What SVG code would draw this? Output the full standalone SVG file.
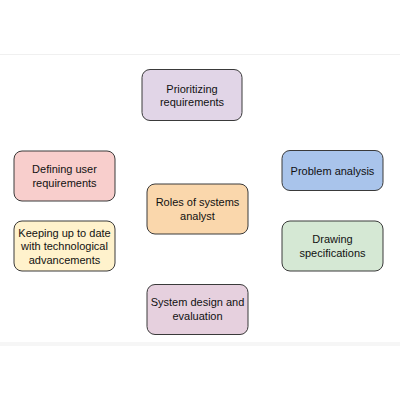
<svg xmlns="http://www.w3.org/2000/svg" width="400" height="400" viewBox="0 0 400 400">
<style>
.box{stroke:#3a3a3a;stroke-width:1}
text{font-family:"Liberation Sans",Arial,sans-serif;font-size:11px;fill:#111;text-anchor:middle}
</style>
<rect width="400" height="400" fill="#fff"/>
<line x1="0" y1="54.5" x2="400" y2="54.5" stroke="#f0f0f0"/>
<rect x="0" y="342" width="400" height="4" fill="#f6f6f6"/>
<g id="connectors"></g>
<g id="prioritizing">
<rect class="box" x="142" y="69.5" width="100" height="51" rx="8" fill="#e1d5e7"/>
<text x="192" y="93">Prioritizing</text>
<text x="192" y="106">requirements</text>
</g>
<g id="defining">
<rect class="box" x="14" y="151" width="101" height="50" rx="8" fill="#f8cecc"/>
<text x="64.5" y="173">Defining user</text>
<text x="64.5" y="187">requirements</text>
</g>
<g id="keeping">
<rect class="box" x="14" y="221" width="101" height="50" rx="8" fill="#fff2cc"/>
<text x="64.5" y="237">Keeping up to date</text>
<text x="64.5" y="250">with technological</text>
<text x="64.5" y="264">advancements</text>
</g>
<g id="problem">
<rect class="box" x="282" y="150.5" width="101" height="40" rx="8" fill="#a9c4eb"/>
<text x="332.5" y="174.5">Problem analysis</text>
</g>
<g id="drawing">
<rect class="box" x="282" y="221" width="101" height="50" rx="8" fill="#d5e8d4"/>
<text x="332.5" y="243">Drawing</text>
<text x="332.5" y="257">specifications</text>
</g>
<g id="roles">
<rect class="box" x="147" y="184" width="101" height="50" rx="8" fill="#fad7ac"/>
<text x="197.5" y="206">Roles of systems</text>
<text x="197.5" y="220">analyst</text>
</g>
<g id="system">
<rect class="box" x="147" y="284.5" width="101" height="50" rx="8" fill="#e6d0de"/>
<text x="197.5" y="306">System design and</text>
<text x="197.5" y="320">evaluation</text>
</g>
</svg>
